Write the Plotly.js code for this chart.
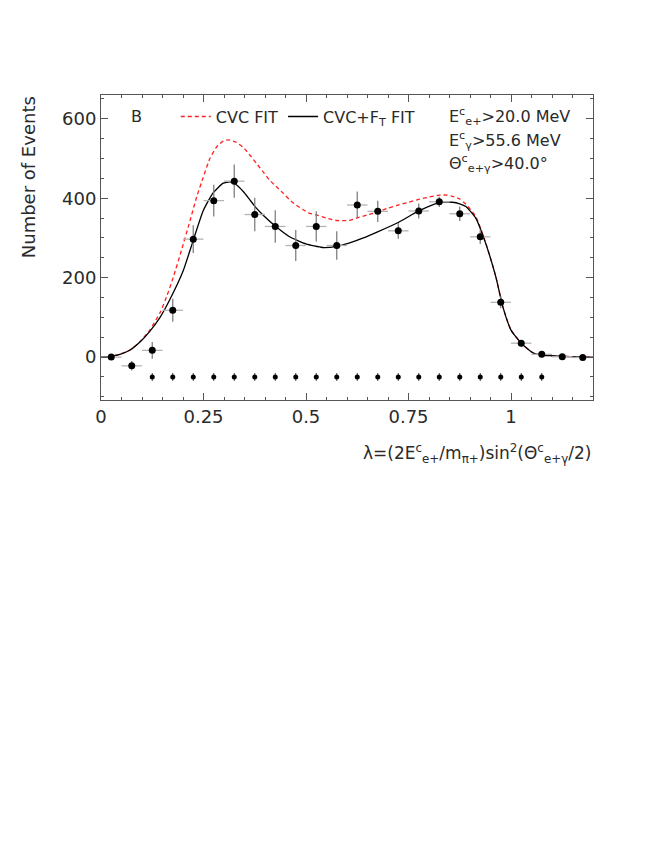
<!DOCTYPE html>
<html>
<head>
<meta charset="utf-8">
<script src="https://cdn.plot.ly/plotly-3.0.1.min.js"></script>
<style>html,body{margin:0;padding:0;background:#fff;}</style>
</head>
<body>
<div id="chart" style="width:664px;height:860px;"></div>
<script>
// Data points (bins of width 0.05)
const binCenters = [0.025,0.075,0.125,0.175,0.225,0.275,0.325,0.375,0.425,0.475,0.525,0.575,0.625,0.675,0.725,0.775,0.825,0.875,0.925,0.975,1.025,1.075,1.125,1.175];
const binCounts  = [0,-22,17,118,297,394,443,359,329,281,329,281,383,367,318,368,391,361,303,138,35,7,1,-1];
const binErrors  = [3,12,21,29,35,40,42,42,41,39,38,36,34,27,20,19,13,18,18,15,8,4,2,2];
const binHalfWidth = 0.025;

// Lower row of markers
const lowerX = [0.125,0.175,0.225,0.275,0.325,0.375,0.425,0.475,0.525,0.575,0.625,0.675,0.725,0.775,0.825,0.875,0.925,0.975,1.025,1.075];
const lowerY = [-50,-50,-50,-50,-50,-50,-50,-50,-50,-50,-50,-50,-50,-50,-50,-50,-50,-50,-50,-50];
const lowerErr = 10;

// CVC+F_T fit (black solid)
const fitTx = [0,0.023,0.046,0.071,0.095,0.119,0.144,0.168,0.2,0.225,0.249,0.273,0.298,0.315,0.33,0.347,0.363,0.379,0.395,0.425,0.46,0.5,0.54,0.575,0.605,0.64,0.676,0.725,0.775,0.825,0.857,0.875,0.89,0.914,0.938,0.963,0.98,1.0,1.025,1.053,1.077,1.126,1.2];
const fitTy = [0,2,7,18,38,65,100,145,216,294,368,413,438,441,434,417,396,375,358,330,303,285,276,279,287,300,316,339,368,389,390,386,379,350,287,202,127,68,35,11,5,2,0];

// CVC fit (red dashed)
const fitCx = [0,0.023,0.046,0.071,0.095,0.119,0.144,0.16,0.176,0.196,0.217,0.233,0.249,0.265,0.282,0.298,0.312,0.33,0.347,0.363,0.379,0.395,0.411,0.428,0.444,0.46,0.476,0.493,0.509,0.525,0.55,0.575,0.605,0.623,0.65,0.676,0.7,0.725,0.75,0.775,0.8,0.825,0.845,0.857,0.875,0.89,0.914,0.938,0.963,0.98,1.0,1.025,1.053,1.077,1.126,1.2];
const fitCy = [0,2,7,18,39,68,112,152,200,268,343,402,452,499,529,544,547,541,528,509,488,467,446,429,413,396,383,371,362,358,350,344,344,350,358,366,375,383,390,397,403,408,408,405,398,385,354,289,203,127,68,35,11,5,2,0];

const xTickVals = [0,0.25,0.5,0.75,1];
const xTickText = ['0','0.25','0.5','0.75','1'];
const yTickVals = [0,200,400,600];

const FONT = 'DejaVu Sans, Liberation Sans, sans-serif';
const TXT = '#2a2a2a';

const traces = [
  {
    x: fitCx, y: fitCy, type: 'scatter', mode: 'lines',
    name: 'CVC FIT',
    line: {color: '#ff2020', width: 1.3, dash: '4px,3px', shape: 'spline', smoothing: 0.5},
    hoverinfo: 'skip'
  },
  {
    x: fitTx, y: fitTy, type: 'scatter', mode: 'lines',
    name: 'CVC+F<sub>T</sub> FIT',
    line: {color: '#000', width: 1.3, shape: 'spline', smoothing: 0.5},
    hoverinfo: 'skip'
  },
  {
    x: binCenters, y: binCounts, type: 'scatter', mode: 'markers',
    showlegend: false,
    marker: {color: '#000', size: 7},
    error_y: {type: 'data', array: binErrors, visible: true, color: '#808080', thickness: 1.3, width: 0},
    error_x: {type: 'constant', value: binHalfWidth, visible: true, color: '#b4b4b4', thickness: 1.3, width: 0},
    hoverinfo: 'skip'
  },
  {
    x: lowerX, y: lowerY, type: 'scatter', mode: 'markers',
    showlegend: false,
    marker: {color: '#000', size: 5},
    error_y: {type: 'constant', value: lowerErr, visible: true, color: '#444', thickness: 1, width: 0},
    hoverinfo: 'skip'
  }
];

const axisCommon = {
  showline: true, linecolor: '#555', linewidth: 1, mirror: 'allticks',
  ticks: 'inside', ticklen: 7, tickcolor: '#555', tickwidth: 1,
  showgrid: false, zeroline: false,
  tickfont: {family: FONT, size: 18, color: TXT}
};

const layout = {
  width: 664, height: 860,
  paper_bgcolor: '#fff', plot_bgcolor: '#fff',
  margin: {l: 101, r: 71, t: 95, b: 460},
  showlegend: true,
  legend: {
    orientation: 'h', x: 0.152, y: 0.985, xanchor: 'left', yanchor: 'top',
    font: {family: FONT, size: 16, color: TXT},
    bgcolor: 'rgba(0,0,0,0)', itemwidth: 30, tracegroupgap: 0
  },
  xaxis: Object.assign({}, axisCommon, {
    range: [0, 1.2], tickvals: xTickVals, ticktext: xTickText,
    minor: {dtick: 0.05, ticks: 'inside', ticklen: 3, tickcolor: '#555'}
  }),
  yaxis: Object.assign({}, axisCommon, {
    range: [-108, 660], tickvals: yTickVals,
    minor: {dtick: 50, ticks: 'inside', ticklen: 3, tickcolor: '#555'}
  }),
  annotations: [
    {xref: 'paper', yref: 'paper', x: 0.073, y: 0.928, text: 'B', showarrow: false,
     xanchor: 'center', yanchor: 'middle', font: {family: FONT, size: 16, color: TXT}},
    {xref: 'paper', yref: 'paper', x: 0.703, y: 0.928, text: 'E<sup>c</sup><sub>e+</sub>>20.0 MeV', showarrow: false,
     xanchor: 'left', yanchor: 'middle', font: {family: FONT, size: 16, color: TXT}},
    {xref: 'paper', yref: 'paper', x: 0.703, y: 0.852, text: 'E<sup>c</sup><sub>γ</sub>>55.6 MeV', showarrow: false,
     xanchor: 'left', yanchor: 'middle', font: {family: FONT, size: 16, color: TXT}},
    {xref: 'paper', yref: 'paper', x: 0.703, y: 0.777, text: 'Θ<sup>c</sup><sub>e+γ</sub>>40.0°', showarrow: false,
     xanchor: 'left', yanchor: 'middle', font: {family: FONT, size: 16, color: TXT}},
    {xref: 'paper', yref: 'paper', x: 1.0, y: -0.175, text: 'λ=(2E<sup>c</sup><sub>e+</sub>/m<sub>π+</sub>)sin<sup>2</sup>(Θ<sup>c</sup><sub>e+γ</sub>/2)', showarrow: false,
     xanchor: 'right', yanchor: 'middle', font: {family: FONT, size: 17, color: TXT}},
    {xref: 'paper', yref: 'paper', x: -0.148, y: 0.731, text: 'Number of Events', showarrow: false, textangle: -90,
     xanchor: 'center', yanchor: 'middle', font: {family: FONT, size: 18, color: TXT}}
  ]
};

Plotly.newPlot('chart', traces, layout, {staticPlot: true, displayModeBar: false});
</script>
</body>
</html>
